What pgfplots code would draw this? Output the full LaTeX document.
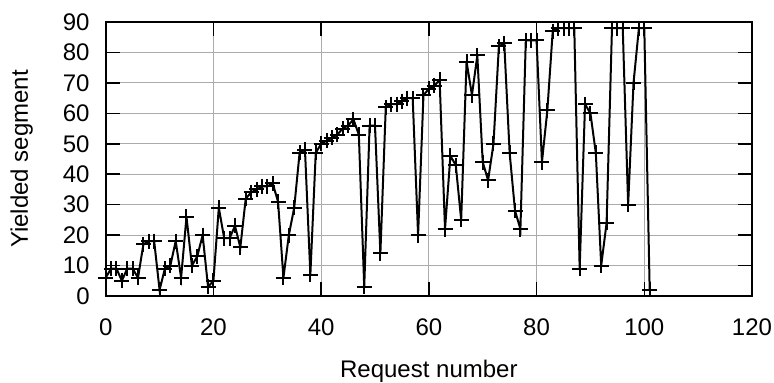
\documentclass[border=0pt]{standalone}
\usepackage{fontspec}
\setmainfont{Liberation Sans}
\usepackage{pgfplots}
\pgfplotsset{compat=1.18}
\begin{document}
\begin{tikzpicture}
\begin{axis}[
  name=ax,
  width=323.15pt, height=137pt, scale only axis,
  xmin=0, xmax=120, ymin=0, ymax=90,
  xtick={0,20,...,120}, ytick={0,10,...,90},
  grid=major,
  major grid style={color=black!33, line width=0.5pt},
  tick align=inside,
  major tick length=7pt,
  tick style={black, line width=0.75pt},
  axis line style={line width=1pt},
  /pgf/number format/assume math mode=true,
  tick label style={font=\fontsize{12}{14.4}\selectfont},
  label style={font=\fontsize{12}{14.4}\selectfont},
  xticklabel style={anchor=base, inner sep=0pt, yshift=-19.5pt},
  yticklabel style={anchor=east, inner sep=0pt, xshift=-7.85pt},
  xlabel={Request number},
  ylabel={Yielded segment},
  xlabel style={at={(axis description cs:0.5,0)}, anchor=base, inner sep=0pt, yshift=-40.5pt},
  ylabel style={at={(axis description cs:-0.1481,0.5)}, anchor=north, inner sep=0pt},
]
\addplot[black, line width=1pt, mark=+, mark size=3.75pt, mark options={line width=1pt}] coordinates {
(0,6) (1,9) (2,9) (3,5) (4,9) (5,9) (6,6) (7,17) (8,18) (9,18)
(10,2) (11,9) (12,10) (13,18) (14,6) (15,26) (16,10) (17,13) (18,20) (19,3)
(20,5) (21,29) (22,19) (23,19) (24,23) (25,16) (26,32) (27,34) (28,35) (29,36)
(30,36) (31,37) (32,31) (33,6) (34,20) (35,29) (36,47) (37,48) (38,7) (39,47)
(40,50) (41,51) (42,52) (43,53) (44,55) (45,56) (46,58) (47,53) (48,3) (49,56)
(50,56) (51,14) (52,62) (53,63) (54,63) (55,64) (56,65) (57,65) (58,20) (59,66)
(60,68) (61,69) (62,71) (63,22) (64,46) (65,43) (66,25) (67,77) (68,66) (69,79)
(70,44) (71,38) (72,50) (73,82) (74,83) (75,47) (76,28) (77,22) (78,84) (79,84)
(80,84) (81,44) (82,61) (83,87) (84,88) (85,88) (86,88) (87,88) (88,9) (89,63)
(90,60) (91,47) (92,10) (93,24) (94,88) (95,88) (96,88) (97,30) (98,70) (99,88)
(100,88) (101,2)
};
\end{axis}
\pgfresetboundingbox
\path (ax.south west) ++(-52.85pt,-43pt) rectangle ++(387pt,191pt);
\end{tikzpicture}
\end{document}
